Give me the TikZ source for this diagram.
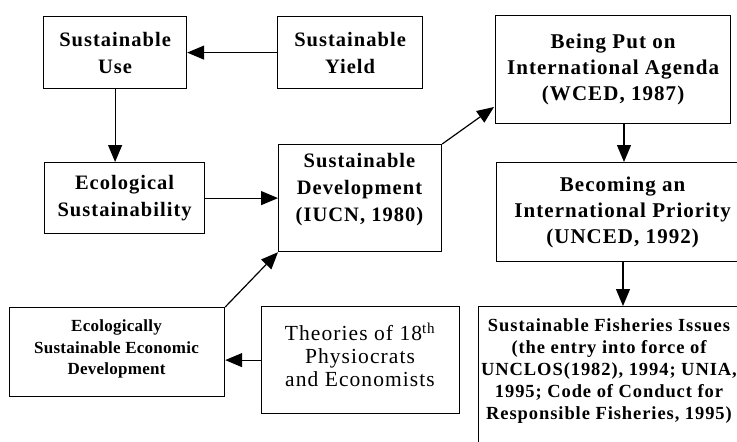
\documentclass[tikz,border=0pt]{standalone}
\usepackage{fontspec}
\setmainfont{Liberation Serif}[LetterSpace=5]
\newfontfamily\narrowserif{Liberation Serif}[LetterSpace=1.5]
\usetikzlibrary{arrows.meta,calc}
\tikzset{
  box/.style={draw, line width=1.2pt, anchor=north west, align=center, inner sep=0pt},
  txt/.style={align=center, inner sep=0pt},
  arr/.style={line width=1.2pt, -{Triangle[length=17pt,width=14pt]}},
  fbig/.style={font=\fontsize{20.5}{27}\selectfont\bfseries},
  fagenda/.style={font=\fontsize{21}{26}\selectfont\bfseries},
  ffish/.style={font=\fontsize{18.5}{22}\selectfont\bfseries},
  fesed/.style={font=\narrowserif\fontsize{17}{21.5}\selectfont\bfseries},
  ftheo/.style={font=\fontsize{21.5}{23}\selectfont},
}
\begin{document}
\begin{tikzpicture}[x=1pt,y=-1pt]
\useasboundingbox (0,0) rectangle (737,442);
\clip (0,0) rectangle (737,442);
\fill[white] (0,0) rectangle (737,442);

\node[box, fbig, minimum width=143pt, minimum height=72pt] (use) at (43,16) {Sustainable\\Use};
\node[box, fbig, minimum width=145pt, minimum height=72pt] (yield) at (277,16) {Sustainable\\Yield};
\node[box, fbig, minimum width=160pt, minimum height=71pt] (ecol) at (44,162) {Ecological\\Sustainability};
\node[box, minimum width=163pt, minimum height=107pt] (sd) at (278,144) {};
\node[txt, fbig] (sdtxt) at (359.5,190) {Sustainable\\Development\\(IUCN, 1980)};
\node[box, fagenda, minimum width=235pt, minimum height=108pt] (being) at (495,15) {Being Put on\\International Agenda\\(WCED, 1987)};
\node[box, fagenda, minimum width=252pt, minimum height=99pt] (becoming) at (496,162) {Becoming an\\International Priority\\(UNCED, 1992)};
\node[box, minimum width=262pt, minimum height=200pt] (fish) at (478,306) {};
\node[txt, ffish] (fishtxt) at (609,371) {Sustainable Fisheries Issues\\(the entry into force of\\UNCLOS(1982), 1994; UNIA,\\1995; Code of Conduct for\\Responsible Fisheries, 1995)};
\node[box, minimum width=215pt, minimum height=89pt] (esed) at (9,307) {};
\node[txt, fesed] (esedtxt) at (116.5,349) {Ecologically\\Sustainable Economic\\Development};
\node[box, minimum width=198pt, minimum height=107pt] (theo) at (261,306) {};
\node[txt, ftheo] (theotxt) at (360,355) {Theories of 18\textsuperscript{th}\\Physiocrats\\and Economists};

\coordinate (beingin) at (494,107);
\draw[arr] (yield.west) -- (use.east);
\draw[arr] (use.south) -- (use.south |- ecol.north);
\draw[arr] (ecol.east) -- (sd.west |- ecol.east);
\draw[arr] (sd.north east) -- (beingin);
\draw[arr] (being.south -| 624,0) -- (becoming.north -| 624,0);
\draw[arr] (becoming.south -| 623,0) -- (fish.north -| 623,0);
\draw[arr] (esed.north east) -- (sd.south west);
\draw[arr] (theo.west) -- (esed.east |- theo.west);
\end{tikzpicture}
\end{document}
